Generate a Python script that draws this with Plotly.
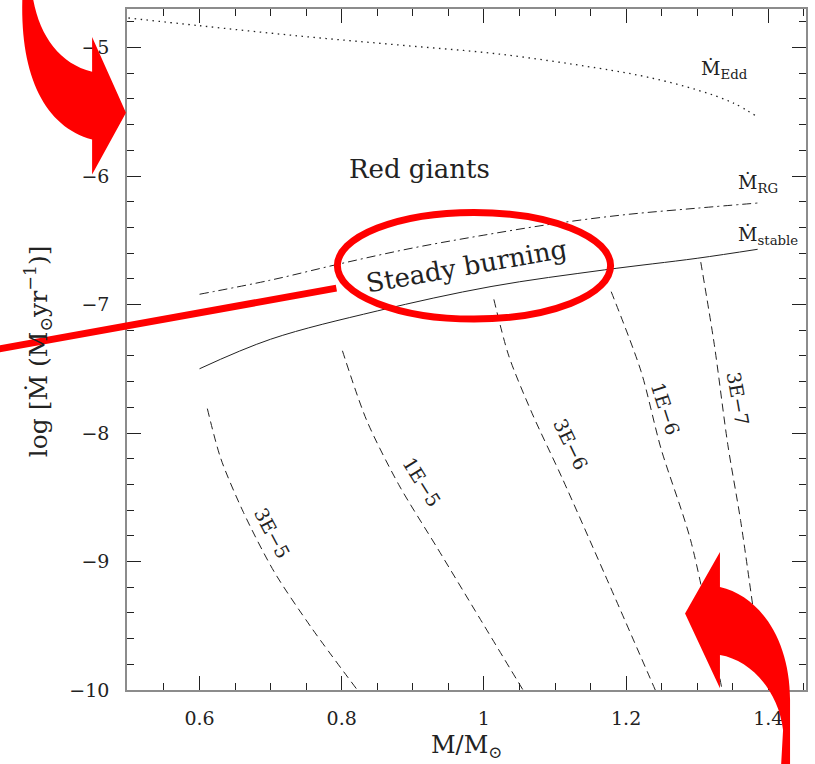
import plotly.graph_objects as go

# ---------------- figure geometry ----------------
W, H = 815, 764
ML, MR, MT, MB = 127, 7, 7, 74
X_RANGE = [0.498, 1.453]
Y_RANGE = [-10.0, -4.7]

# ---------------- data (M/Msun, log Mdot) ----------------
edd_m = [0.50, 0.60, 0.74, 0.88, 1.02, 1.16, 1.23, 1.30, 1.35, 1.385]
edd_logmdot = [-4.77, -4.83, -4.91, -4.98, -5.05, -5.16, -5.23, -5.33, -5.43, -5.54]

rg_m = [0.60, 0.70, 0.80, 0.90, 1.00, 1.10, 1.20, 1.30, 1.385]
rg_logmdot = [-6.92, -6.81, -6.68, -6.56, -6.46, -6.37, -6.30, -6.25, -6.21]

stable_m = [0.60, 0.70, 0.85, 1.01, 1.17, 1.30, 1.385]
stable_logmdot = [-7.50, -7.27, -7.05, -6.86, -6.73, -6.64, -6.57]

c3e5_m = [0.611, 0.630, 0.662, 0.705, 0.758, 0.822]
c3e5_logmdot = [-7.81, -8.20, -8.62, -9.08, -9.52, -10.0]

c1e5_m = [0.801, 0.835, 0.880, 0.935, 0.995, 1.055]
c1e5_logmdot = [-7.36, -7.90, -8.40, -8.90, -9.45, -10.0]

c3e6_m = [1.014, 1.035, 1.068, 1.110, 1.170, 1.241]
c3e6_logmdot = [-6.96, -7.40, -7.85, -8.35, -9.10, -10.0]

c1e6_m = [1.179, 1.221, 1.249, 1.291, 1.335]
c1e6_logmdot = [-6.90, -7.52, -8.12, -8.84, -10.0]

c3e7_m = [1.305, 1.324, 1.343, 1.361, 1.378]
c3e7_logmdot = [-6.67, -7.31, -8.09, -8.68, -9.34]

contour_labels = ["3E\u22125", "1E\u22125", "3E\u22126", "1E\u22126", "3E\u22127"]
contour_label_m = [0.702, 0.913, 1.122, 1.256, 1.357]
contour_label_logmdot = [-8.78, -8.38, -8.085, -7.81, -7.73]
contour_label_angle = [62, 58, 64, 72, 80]

x_tickvals = [0.6, 0.8, 1.0, 1.2, 1.4]
x_ticktext = ["0.6", "0.8", "1", "1.2", "1.4"]
x_minorvals = [0.55, 0.65, 0.7, 0.75, 0.85, 0.9, 0.95, 1.05, 1.1, 1.15, 1.25, 1.3, 1.35, 1.45]
y_tickvals = [-10, -9, -8, -7, -6, -5]
y_ticktext = ["\u221210", "\u22129", "\u22128", "\u22127", "\u22126", "\u22125"]
y_minorvals = [-9.8, -9.6, -9.4, -9.2, -8.8, -8.6, -8.4, -8.2, -7.8, -7.6, -7.4, -7.2,
               -6.8, -6.6, -6.4, -6.2, -5.8, -5.6, -5.4, -5.2, -4.8]

FONT = "DejaVu Serif"
INK = "#222222"

fig = go.Figure()

fig.add_trace(go.Scatter(x=edd_m, y=edd_logmdot, mode="lines",
                         line=dict(color=INK, width=1.3, dash="1.5px,4.5px", shape="spline")))
fig.add_trace(go.Scatter(x=rg_m, y=rg_logmdot, mode="lines",
                         line=dict(color=INK, width=1, dash="9px,4px,2px,4px", shape="spline")))
fig.add_trace(go.Scatter(x=stable_m, y=stable_logmdot, mode="lines",
                         line=dict(color=INK, width=1, shape="spline")))
for xs, ys in [(c3e5_m, c3e5_logmdot), (c1e5_m, c1e5_logmdot), (c3e6_m, c3e6_logmdot),
               (c1e6_m, c1e6_logmdot), (c3e7_m, c3e7_logmdot)]:
    fig.add_trace(go.Scatter(x=xs, y=ys, mode="lines",
                             line=dict(color=INK, width=1, dash="8px,5px", shape="spline",
                                       smoothing=0.8)))

annotations = []
for t, xm, ym, ang in zip(contour_labels, contour_label_m, contour_label_logmdot, contour_label_angle):
    annotations.append(dict(x=xm, y=ym, xref="x", yref="y", text=t, textangle=ang,
                            xanchor="center", yanchor="middle",
                            showarrow=False, font=dict(family=FONT, size=19, color=INK)))

annotations += [
    dict(x=0.909, y=-5.946, xref="x", yref="y", text="Red giants", showarrow=False,
         xanchor="center", yanchor="middle", font=dict(family=FONT, size=26, color=INK)),
    dict(x=0.976, y=-6.70, xref="x", yref="y", text="Steady burning", textangle=-10,
         xanchor="center", yanchor="middle",
         showarrow=False, font=dict(family=FONT, size=26, color=INK)),
    dict(x=1.303, y=-5.17, xref="x", yref="y", xanchor="left", yanchor="middle",
         text="\u1E40<sub>Edd</sub>",
         showarrow=False, font=dict(family=FONT, size=19, color=INK)),
    dict(x=1.355, y=-6.06, xref="x", yref="y", xanchor="left", yanchor="middle",
         text="\u1E40<sub>RG</sub>",
         showarrow=False, font=dict(family=FONT, size=19, color=INK)),
    dict(x=1.355, y=-6.465, xref="x", yref="y", xanchor="left", yanchor="middle",
         text="\u1E40<sub>stable</sub>",
         showarrow=False, font=dict(family=FONT, size=19, color=INK)),
]

PW, PH = W - ML - MR, H - MT - MB


def px(xp):
    return (xp - ML) / PW


def py(yp):
    return (H - MB - yp) / PH


# axis titles
annotations += [
    dict(x=px(38), y=py(350), xref="paper", yref="paper", textangle=-90,
         xanchor="center", yanchor="middle",
         text="log [\u1E40 (M<sub>\u2299</sub>yr<sup>\u22121</sup>)]", showarrow=False,
         font=dict(family=FONT, size=25, color=INK)),
    dict(x=px(468), y=py(747), xref="paper", yref="paper",
         xanchor="center", yanchor="middle",
         text="M/M<sub>\u2299</sub>", showarrow=False,
         font=dict(family=FONT, size=24, color=INK)),
]

# ---------------- red overlay decorations (pixel geometry) ----------------
RED = "#ff0000"


def path(cmds):
    out = []
    for c in cmds:
        op, pts = c[0], c[1:]
        s = op
        s += " ".join("%.5f,%.5f" % (px(pts[i]), py(pts[i + 1])) for i in range(0, len(pts), 2))
        out.append(s)
    return " ".join(out) + " Z"


arrow_tl = [("M", 22, -2), ("C", 20, 75, 45, 125, 92, 138), ("L", 92, 173), ("L", 126, 111),
            ("L", 92, 35), ("L", 92, 70), ("C", 60, 62, 40, 35, 33, -2)]
arrow_br = [("M", 721.7, 586.7), ("C", 762, 596, 792, 640, 792, 700), ("L", 792, 766),
            ("L", 783, 766), ("L", 785, 730), ("C", 780, 690, 752, 660, 721.7, 655),
            ("L", 721.7, 688.3), ("L", 686.7, 613.3), ("L", 721.7, 551.7)]

shapes = [
    dict(type="path", xref="paper", yref="paper", path=path(arrow_tl),
         fillcolor=RED, line=dict(width=0), layer="above"),
    dict(type="path", xref="paper", yref="paper", path=path(arrow_br),
         fillcolor=RED, line=dict(width=0), layer="above"),
    dict(type="circle", xref="paper", yref="paper", x0=px(338), x1=px(612), y0=py(318), y1=py(211),
         line=dict(color=RED, width=7), layer="above"),
    dict(type="line", xref="paper", yref="paper", x0=px(-2), y0=py(348), x1=px(337), y1=py(287),
         line=dict(color=RED, width=7), layer="above"),
]

axis_common = dict(showline=True, linecolor="#8c8c8c", linewidth=1.5, mirror="allticks",
                   ticks="inside", ticklen=14, tickwidth=1.2, tickcolor=INK,
                   showgrid=False, zeroline=False,
                   tickfont=dict(family=FONT, size=19, color=INK))

fig.update_layout(
    width=W, height=H, margin=dict(l=ML, r=MR, t=MT, b=MB, pad=0),
    paper_bgcolor="white", plot_bgcolor="white", showlegend=False,
    xaxis=dict(range=X_RANGE, tickmode="array", tickvals=x_tickvals, ticktext=x_ticktext,
               minor=dict(tickmode="array", tickvals=x_minorvals, ticks="inside", ticklen=7,
                          tickcolor=INK, tickwidth=1, showgrid=False),
               ticklabelstandoff=10, **axis_common),
    yaxis=dict(range=Y_RANGE, tickmode="array", tickvals=y_tickvals, ticktext=y_ticktext,
               minor=dict(tickmode="array", tickvals=y_minorvals, ticks="inside", ticklen=7,
                          tickcolor=INK, tickwidth=1, showgrid=False),
               ticklabelstandoff=12, **axis_common),
    annotations=annotations, shapes=shapes,
)

fig.write_html("out.html")
